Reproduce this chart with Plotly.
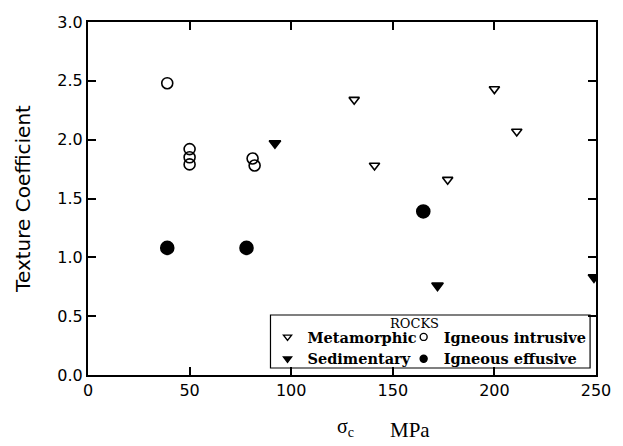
import plotly.graph_objects as go

# Data (sigma_c in MPa, texture coefficient)
meta_x = [131, 141, 177, 200, 211]
meta_y = [2.34, 1.78, 1.66, 2.43, 2.07]
intr_x = [39, 50, 50, 50, 81, 82]
intr_y = [2.48, 1.92, 1.85, 1.79, 1.84, 1.78]
sed_x = [92, 172, 249]
sed_y = [1.97, 0.76, 0.83]
eff_x = [39, 78, 165]
eff_y = [1.08, 1.08, 1.39]

series = [
    ("Metamorphic", meta_x, meta_y, "triangle-down-open", 9, "legend"),
    ("Sedimentary", sed_x, sed_y, "triangle-down", 10, "legend"),
    ("Igneous intrusive", intr_x, intr_y, "circle-open", 11, "legend2"),
    ("Igneous effusive", eff_x, eff_y, "circle", 13, "legend2"),
]

fig = go.Figure()
for name, xs, ys, sym, sz, lg in series:
    fig.add_trace(go.Scatter(
        x=xs, y=ys, mode="markers", name=name, showlegend=False,
        legendgroup=name,
        marker=dict(symbol=sym, size=sz, color="black",
                    line=dict(color="black", width=1.6)),
    ))
# legend entries with smaller symbols (as in the reference key)
for name, xs, ys, sym, sz, lg in series:
    fig.add_trace(go.Scatter(
        x=[None], y=[None], mode="markers", name=name, legend=lg,
        legendgroup=name,
        marker=dict(symbol=sym, size=7, color="black",
                    line=dict(color="black", width=1.4)),
    ))

axis_common = dict(
    showline=True, linecolor="black", linewidth=2, mirror="ticks",
    ticks="inside", ticklen=8, tickwidth=1.5, tickcolor="black",
    showgrid=False, zeroline=False,
    tickfont=dict(family="DejaVu Sans", size=16, color="black"),
)

fig.update_xaxes(range=[0, 250], tickvals=[0, 50, 100, 150, 200, 250], **axis_common)
fig.update_yaxes(range=[0, 3.0], tickvals=[0, 0.5, 1.0, 1.5, 2.0, 2.5, 3.0],
                 tickformat=".1f",
                 title=dict(text="Texture Coefficient",
                            font=dict(family="DejaVu Sans", size=20, color="black"),
                            standoff=21),
                 **axis_common)

# x-axis title
fig.add_annotation(
    xref="paper", yref="paper", x=(349 - 88) / 515, y=-0.19,
    xanchor="center", yanchor="bottom",
    text="σ<sub>c</sub>", showarrow=False,
    font=dict(family="Liberation Serif", size=20, color="black"),
)
fig.add_annotation(
    xref="paper", yref="paper", x=(392 - 88) / 515, y=-0.195,
    xanchor="left", yanchor="bottom",
    text="MPa", showarrow=False,
    font=dict(family="Liberation Serif", size=21, color="black"),
)

# legend frame and title
fig.add_shape(type="rect", xref="paper", yref="paper",
              x0=(273 - 88) / 515, x1=(597 - 88) / 515,
              y0=(375 - 368) / 353, y1=(375 - 315) / 353,
              line=dict(color="black", width=1.2), fillcolor="white", layer="below")
fig.add_annotation(
    xref="paper", yref="paper", x=(419 - 88) / 515, y=(375 - 323) / 353,
    xanchor="center", yanchor="middle", text="ROCKS", showarrow=False,
    font=dict(family="DejaVu Serif", size=13, color="black"),
)

leg_font = dict(family="DejaVu Serif", size=14.5, color="black", weight="bold")
leg_top = (375 - 321) / 353
fig.update_layout(
    width=623, height=446,
    margin=dict(l=88, r=20, t=22, b=71),
    paper_bgcolor="white", plot_bgcolor="white",
    showlegend=True,
    legend=dict(
        x=(290 - 20 - 88) / 515, xanchor="left", y=leg_top, yanchor="top",
        bgcolor="rgba(0,0,0,0)", borderwidth=0, font=leg_font,
        tracegroupgap=0,
    ),
    legend2=dict(
        x=(428 - 20 - 88) / 515, xanchor="left", y=leg_top, yanchor="top",
        bgcolor="rgba(0,0,0,0)", borderwidth=0, font=leg_font,
        tracegroupgap=0,
    ),
)

fig.write_html("out.html")
